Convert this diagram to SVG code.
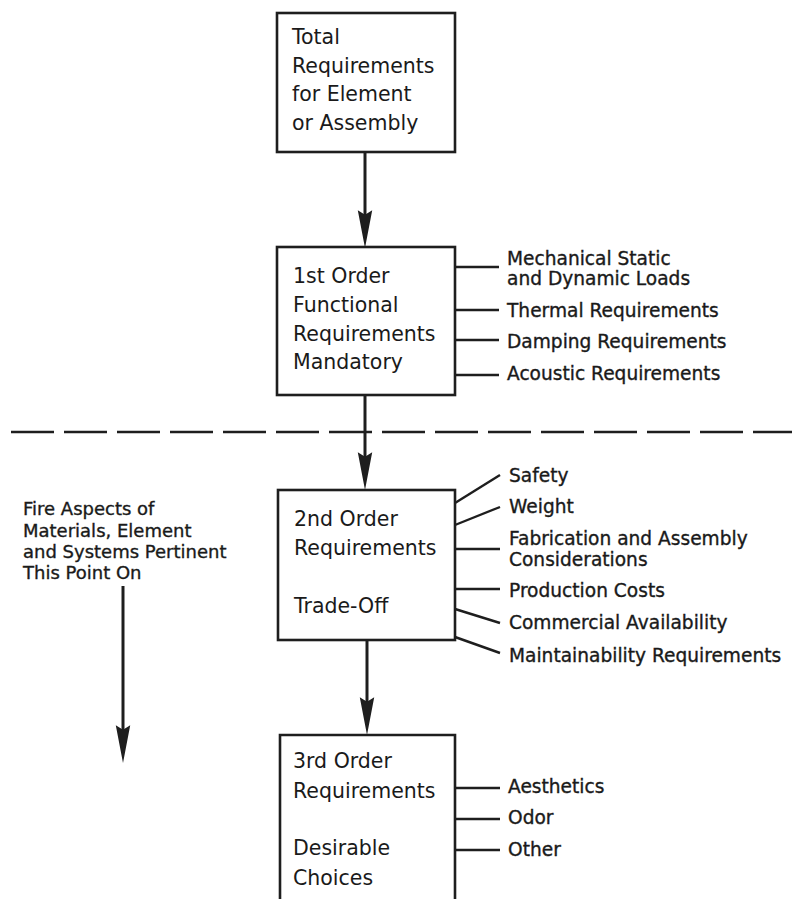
<svg xmlns="http://www.w3.org/2000/svg" width="792" height="899" viewBox="0 0 792 899">
<style>
.box{fill:none;stroke:#1e1e1e;stroke-width:2.6}
.bt{font-family:"DejaVu Sans",sans-serif;font-size:20.5px;fill:#1a1a1a}
.lb{font-family:"DejaVu Sans",sans-serif;font-size:18.6px;fill:#1a1a1a;stroke:#1a1a1a;stroke-width:0.35}
.ft{font-family:"DejaVu Sans",sans-serif;font-size:18px;fill:#1a1a1a;stroke:#1a1a1a;stroke-width:0.35}
.br{stroke:#1e1e1e;stroke-width:2.4;fill:none}
.ar{stroke:#1e1e1e;stroke-width:3;fill:none}
</style>
<defs>
<marker id="ah" markerUnits="userSpaceOnUse" markerWidth="40" markerHeight="20" viewBox="0 -8 36 16" refX="24" refY="0" orient="auto">
<path d="M0,-6.5 L34,0 L0,6.5 L4,0 Z" fill="#1e1e1e"/>
</marker>
</defs>
<g id="divider">
<line x1="11" y1="432" x2="792" y2="432" stroke="#1e1e1e" stroke-width="2.6" stroke-dasharray="43 10"/>
</g>
<g id="n-total">
<rect class="box" x="277" y="13" width="178" height="139"/>
<text class="bt" x="292" y="44">Total</text>
<text class="bt" x="292" y="72.5">Requirements</text>
<text class="bt" x="292" y="101">for Element</text>
<text class="bt" x="292" y="129.5">or Assembly</text>
</g>
<g id="n-first">
<rect class="box" x="277" y="247" width="178" height="148"/>
<text class="bt" x="293" y="283">1st Order</text>
<text class="bt" x="293" y="312">Functional</text>
<text class="bt" x="293" y="341">Requirements</text>
<text class="bt" x="293" y="369">Mandatory</text>
</g>
<g id="n-first-items">
<text class="lb" x="507" y="265">Mechanical Static</text>
<text class="lb" x="507" y="285">and Dynamic Loads</text>
<text class="lb" x="507" y="317">Thermal Requirements</text>
<text class="lb" x="507" y="348">Damping Requirements</text>
<text class="lb" x="507" y="380">Acoustic Requirements</text>
</g>
<g id="n-second">
<rect class="box" x="278" y="490" width="177" height="150"/>
<text class="bt" x="294" y="526">2nd Order</text>
<text class="bt" x="294" y="555">Requirements</text>
<text class="bt" x="294" y="613">Trade-Off</text>
</g>
<g id="n-second-items">
<text class="lb" x="509" y="482">Safety</text>
<text class="lb" x="509" y="513">Weight</text>
<text class="lb" x="509" y="545">Fabrication and Assembly</text>
<text class="lb" x="509" y="566">Considerations</text>
<text class="lb" x="509" y="597">Production Costs</text>
<text class="lb" x="509" y="629">Commercial Availability</text>
<text class="lb" x="509" y="662">Maintainability Requirements</text>
</g>
<g id="n-third">
<path class="box" d="M280,899 V735 H455 V899"/>
<text class="bt" x="293" y="768">3rd Order</text>
<text class="bt" x="293" y="798">Requirements</text>
<text class="bt" x="293" y="855">Desirable</text>
<text class="bt" x="293" y="885">Choices</text>
</g>
<g id="n-third-items">
<text class="lb" x="508" y="793">Aesthetics</text>
<text class="lb" x="508" y="824">Odor</text>
<text class="lb" x="508" y="856">Other</text>
</g>
<g id="n-fire">
<text class="ft" x="23" y="515">Fire Aspects of</text>
<text class="ft" x="23" y="537">Materials, Element</text>
<text class="ft" x="23" y="558">and Systems Pertinent</text>
<text class="ft" x="23" y="579">This Point On</text>
</g>
<g id="connectors">
<line class="ar" x1="365" y1="152" x2="365" y2="237" marker-end="url(#ah)"/>
<line class="ar" x1="365" y1="395" x2="365" y2="479" marker-end="url(#ah)"/>
<line class="ar" x1="367" y1="640" x2="367" y2="724" marker-end="url(#ah)"/>
<line class="ar" x1="123" y1="586" x2="123" y2="752" marker-end="url(#ah)" stroke-width="2.6"/>
<line class="br" x1="455" y1="267" x2="499" y2="267"/>
<line class="br" x1="455" y1="310" x2="499" y2="310"/>
<line class="br" x1="455" y1="340" x2="499" y2="340"/>
<line class="br" x1="455" y1="375" x2="499" y2="375"/>
<line class="br" x1="455" y1="503" x2="500" y2="475"/>
<line class="br" x1="455" y1="525" x2="500" y2="507"/>
<line class="br" x1="455" y1="549" x2="500" y2="549"/>
<line class="br" x1="455" y1="589" x2="500" y2="589"/>
<line class="br" x1="455" y1="609" x2="500" y2="623"/>
<line class="br" x1="455" y1="637" x2="500" y2="653"/>
<line class="br" x1="455" y1="788" x2="500" y2="788"/>
<line class="br" x1="455" y1="819" x2="500" y2="819"/>
<line class="br" x1="455" y1="850" x2="500" y2="850"/>
</g>
</svg>
